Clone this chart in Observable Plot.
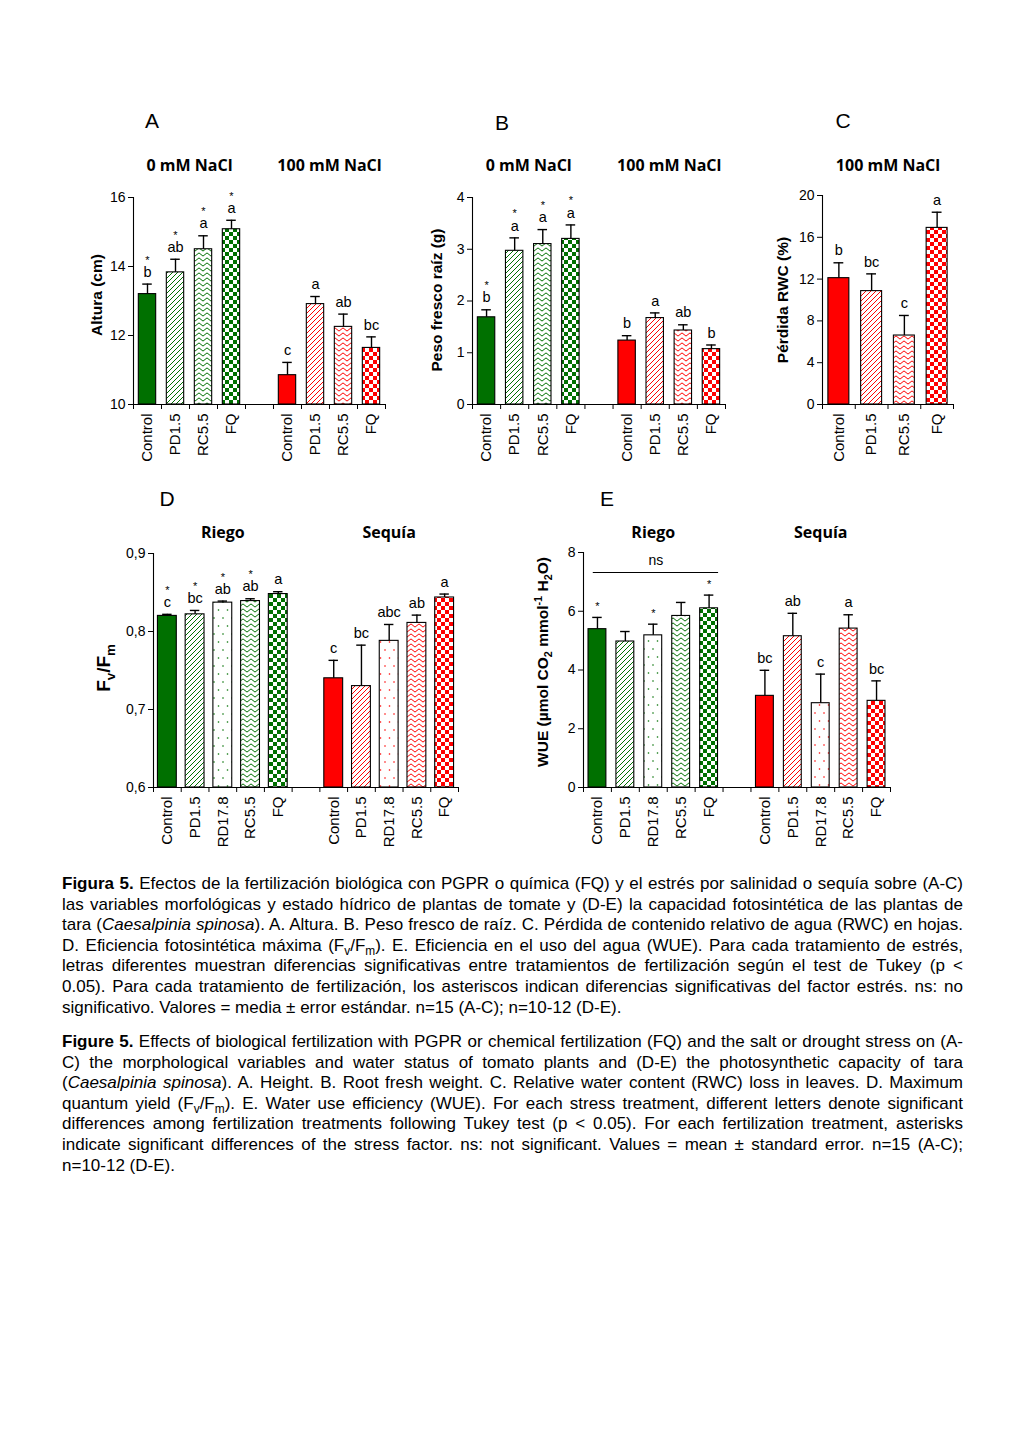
<!DOCTYPE html>
<html>
<head>
<meta charset="utf-8">
<script src="https://cdn.jsdelivr.net/npm/d3@7"></script>
<script src="https://cdn.jsdelivr.net/npm/@observablehq/plot@0.6"></script>
<style>
  html, body { margin: 0; padding: 0; background: #fff; }
  #page { position: relative; width: 1024px; height: 1448px; background: #fff; overflow: hidden; font-family: "Liberation Sans", Arial, sans-serif; color: #000; }
  .panel { position: absolute; }
  .letter { position: absolute; font-size: 21px; transform: translate(-50%, -50%); }
  .ytitle { position: absolute; font-weight: bold; font-size: 15.5px; white-space: nowrap; transform: translate(-50%, -50%) rotate(-90deg); }
  .ytitle sub, .ytitle sup { font-size: 70%; line-height: 0; }
  .caption { position: absolute; left: 62px; width: 901px; font-size: 17px; line-height: 20.6px; }
  .caption div { white-space: nowrap; text-align: justify; text-align-last: justify; }
  .caption div.last { text-align-last: left; }
  .caption sub { font-size: 70%; line-height: 0; }
</style>
</head>
<body>
<div id="page">
<svg width="0" height="0" style="position:absolute"><defs id="defs"></defs></svg>
</div>
<script>
// ---------------- DATA ----------------
const catsSalt = ["Control", "PD1.5", "RC5.5", "FQ"];
const catsWater = ["Control", "PD1.5", "RD17.8", "RC5.5", "FQ"];
const groupsSalt = ["0 mM NaCl", "100 mM NaCl"];
const groupsSaltC = ["100 mM NaCl"];
const groupsWater = ["Riego", "Sequía"];

// A. Altura (cm)
const alturaMean0 = [13.2, 13.83, 14.5, 15.08];
const alturaSE0 = [0.29, 0.38, 0.39, 0.26];
const alturaLet0 = ["b", "ab", "a", "a"];
const alturaStar0 = ["*", "*", "*", "*"];
const alturaMean100 = [10.85, 12.91, 12.25, 11.64];
const alturaSE100 = [0.37, 0.22, 0.37, 0.32];
const alturaLet100 = ["c", "a", "ab", "bc"];
const alturaStar100 = ["", "", "", ""];
const alturaTicks = [10, 12, 14, 16];

// B. Peso fresco raíz (g)
const pesoMean0 = [1.685, 2.97, 3.1, 3.2];
const pesoSE0 = [0.145, 0.25, 0.28, 0.27];
const pesoLet0 = ["b", "a", "a", "a"];
const pesoStar0 = ["*", "*", "*", "*"];
const pesoMean100 = [1.235, 1.67, 1.43, 1.07];
const pesoSE100 = [0.095, 0.10, 0.11, 0.08];
const pesoLet100 = ["b", "a", "ab", "b"];
const pesoStar100 = ["", "", "", ""];
const pesoTicks = [0, 1, 2, 3, 4];

// C. Pérdida RWC (%)
const rwcMean100 = [12.09, 10.85, 6.6, 16.9];
const rwcSE100 = [1.47, 1.65, 1.92, 1.5];
const rwcLet100 = ["b", "bc", "c", "a"];
const rwcStar100 = ["", "", "", ""];
const rwcTicks = [0, 4, 8, 12, 16, 20];

// D. Fv/Fm
const fvMeanRiego = [0.820, 0.822, 0.837, 0.839, 0.848];
const fvSERiego = [0.002, 0.005, 0.002, 0.003, 0.003];
const fvLetRiego = ["c", "bc", "ab", "ab", "a"];
const fvStarRiego = ["*", "*", "*", "*", ""];
const fvMeanSequia = [0.740, 0.730, 0.788, 0.811, 0.8436];
const fvSESequia = [0.023, 0.0525, 0.021, 0.010, 0.0044];
const fvLetSequia = ["c", "bc", "abc", "ab", "a"];
const fvStarSequia = ["", "", "", "", ""];
const fvTicks = [0.6, 0.7, 0.8, 0.9];

// E. WUE
const wueMeanRiego = [5.39, 4.97, 5.18, 5.84, 6.10];
const wueSERiego = [0.40, 0.34, 0.38, 0.46, 0.45];
const wueLetRiego = ["", "", "", "", ""];
const wueStarRiego = ["*", "", "*", "", "*"];
const wueMeanSequia = [3.12, 5.15, 2.87, 5.41, 2.95];
const wueSESequia = [0.87, 0.78, 0.99, 0.47, 0.68];
const wueLetSequia = ["bc", "ab", "c", "a", "bc"];
const wueStarSequia = ["", "", "", "", ""];
const wueTicks = [0, 2, 4, 6, 8];
const wueNs = [{x1: 0.35, x2: 4.84, y: 7.32, label: "ns"}];

// ---------------- STYLE ----------------
const COLORS = {green: "#007000", red: "#ff0000"};
const PAT = {"Control": "solid", "PD1.5": "stripe", "RC5.5": "wave", "FQ": "check", "RD17.8": "dots"};

const defs = document.getElementById("defs");
let defHTML = "";
for (const [name, col] of Object.entries(COLORS)) {
  defHTML += `
  <pattern id="stripe-${name}" patternUnits="userSpaceOnUse" width="5" height="5">
    <rect width="5" height="5" fill="white"/>
    <path d="M-1,1 L1,-1 M0,5 L5,0 M4,6 L6,4" stroke="${col}" stroke-width="1"/>
  </pattern>
  <pattern id="wave-${name}" patternUnits="userSpaceOnUse" width="8" height="5">
    <rect width="8" height="5" fill="white"/>
    <path d="M0,2.5 L2,0.9 L6,4.1 L8,2.5" fill="none" stroke="${col}" stroke-width="1"/>
  </pattern>
  <pattern id="check-${name}" patternUnits="userSpaceOnUse" width="8" height="8">
    <rect width="8" height="8" fill="white"/>
    <rect x="0" y="0" width="4" height="4" fill="${col}"/>
    <rect x="4" y="4" width="4" height="4" fill="${col}"/>
  </pattern>
  <pattern id="dots-${name}" patternUnits="userSpaceOnUse" width="9" height="16">
    <rect width="9" height="16" fill="white"/>
    <circle cx="2" cy="4" r="0.8" fill="${col}"/>
    <circle cx="6.5" cy="12" r="0.8" fill="${col}"/>
  </pattern>`;
}
defs.innerHTML = defHTML;

function buildRows(cats, groups) {
  const rows = [];
  groups.forEach((g, gi) => {
    cats.forEach((c, ci) => {
      rows.push({
        i: gi * (cats.length + 1) + ci,
        cat: c,
        mean: g.means[ci],
        se: g.ses[ci],
        letter: g.letters[ci],
        star: g.stars[ci],
        fill: PAT[c] === "solid" ? COLORS[g.color] : `url(#${PAT[c]}-${g.color})`
      });
    });
  });
  return rows;
}

const page = document.getElementById("page");

function panel(o) {
  const {rows, cats, groupNames, nslots, yTicks, fmt, w, h, ml, mt, mr, mb, pad, cap, headerDy, left, top, extra = []} = o;
  const ymin = yTicks[0], ymax = yTicks[yTicks.length - 1];
  const centers = new Map(rows.map(d => [d.i + 0.5, d.cat]));
  const ncat = cats.length;
  const plot = Plot.plot({
    width: w, height: h,
    marginLeft: ml, marginTop: mt, marginRight: mr, marginBottom: mb,
    x: {domain: [0, nslots]},
    y: {domain: [ymin, ymax]},
    color: {type: "identity"},
    style: {fontFamily: "'Liberation Sans', Arial, sans-serif", fontSize: "14px", background: "transparent", color: "black", overflow: "visible"},
    marks: [
      Plot.rect(rows, {x1: d => d.i + pad, x2: d => d.i + 1 - pad, y1: () => ymin, y2: "mean", fill: "fill", stroke: "black", strokeWidth: 1.1}),
      Plot.ruleX(rows, {x: d => d.i + 0.5, y1: "mean", y2: d => d.mean + d.se, stroke: "black", strokeWidth: 1.4}),
      Plot.ruleY(rows, {y: d => d.mean + d.se, x1: d => d.i + 0.5 - cap, x2: d => d.i + 0.5 + cap, stroke: "black", strokeWidth: 1.4}),
      Plot.text(rows, {x: d => d.i + 0.5, y: d => d.mean + d.se, text: "letter", dy: -12, fontSize: 14.5}),
      Plot.text(rows.filter(d => d.star && d.letter), {x: d => d.i + 0.5, y: d => d.mean + d.se, text: "star", dy: -24, fontSize: 11}),
      Plot.text(rows.filter(d => d.star && !d.letter), {x: d => d.i + 0.5, y: d => d.mean + d.se, text: "star", dy: -11, fontSize: 11}),
      Plot.text(groupNames, {x: (d, i) => i * (ncat + 1) + ncat / 2, frameAnchor: "top", dy: headerDy, text: d => d, fontFamily: "'Open Sans', sans-serif", fontWeight: "bold", fontSize: 16}),
      Plot.ruleX([0], {stroke: "black", strokeWidth: 1.1}),
      Plot.ruleY([ymin], {stroke: "black", strokeWidth: 1.1}),
      Plot.axisY({ticks: yTicks, tickFormat: fmt, tickSize: 5, tickPadding: 3, label: null, fontSize: 14}),
      Plot.axisX({ticks: d3.range(0, nslots + 1), tickFormat: () => "", tickSize: 5, label: null}),
      Plot.axisX({ticks: [...centers.keys()], tickFormat: d => centers.get(d), tickSize: 0, tickPadding: 9, tickRotate: -90, label: null, fontSize: 15}),
      ...extra
    ]
  });
  const div = document.createElement("div");
  div.className = "panel";
  div.style.left = left + "px";
  div.style.top = top + "px";
  div.appendChild(plot);
  page.appendChild(div);
}

function addText(cls, html, x, y) {
  const d = document.createElement("div");
  d.className = cls;
  d.style.left = x + "px";
  d.style.top = y + "px";
  d.innerHTML = html;
  page.appendChild(d);
}

const fmtInt = d => String(d);
const fmtComma = d => d.toFixed(1).replace(".", ",");

// Panel A
panel({
  rows: buildRows(catsSalt, [
    {means: alturaMean0, ses: alturaSE0, letters: alturaLet0, stars: alturaStar0, color: "green"},
    {means: alturaMean100, ses: alturaSE100, letters: alturaLet100, stars: alturaStar100, color: "red"}
  ]),
  cats: catsSalt, groupNames: groupsSalt, nslots: 9, yTicks: alturaTicks, fmt: fmtInt,
  w: 297, h: 322, ml: 40, mt: 45, mr: 5, mb: 70, pad: 0.19, cap: 0.17, headerDy: -38, left: 93, top: 152
});

// Panel B
panel({
  rows: buildRows(catsSalt, [
    {means: pesoMean0, ses: pesoSE0, letters: pesoLet0, stars: pesoStar0, color: "green"},
    {means: pesoMean100, ses: pesoSE100, letters: pesoLet100, stars: pesoStar100, color: "red"}
  ]),
  cats: catsSalt, groupNames: groupsSalt, nslots: 9, yTicks: pesoTicks, fmt: fmtInt,
  w: 298, h: 322, ml: 40, mt: 45, mr: 5, mb: 70, pad: 0.19, cap: 0.17, headerDy: -38, left: 432, top: 152
});

// Panel C
panel({
  rows: buildRows(catsSalt, [
    {means: rwcMean100, ses: rwcSE100, letters: rwcLet100, stars: rwcStar100, color: "red"}
  ]),
  cats: catsSalt, groupNames: groupsSaltC, nslots: 4, yTicks: rwcTicks, fmt: fmtInt,
  w: 176, h: 324, ml: 40, mt: 45, mr: 5, mb: 70, pad: 0.18, cap: 0.15, headerDy: -36, left: 782, top: 150
});

// Panel D
panel({
  rows: buildRows(catsWater, [
    {means: fvMeanRiego, ses: fvSERiego, letters: fvLetRiego, stars: fvStarRiego, color: "green"},
    {means: fvMeanSequia, ses: fvSESequia, letters: fvLetSequia, stars: fvStarSequia, color: "red"}
  ]),
  cats: catsWater, groupNames: groupsWater, nslots: 11, yTicks: fvTicks, fmt: fmtComma,
  w: 350, h: 344, ml: 40, mt: 35, mr: 5, mb: 75, pad: 0.16, cap: 0.17, headerDy: -27, left: 113, top: 518
});

// Panel E
panel({
  rows: buildRows(catsWater, [
    {means: wueMeanRiego, ses: wueSERiego, letters: wueLetRiego, stars: wueStarRiego, color: "green"},
    {means: wueMeanSequia, ses: wueSESequia, letters: wueLetSequia, stars: wueStarSequia, color: "red"}
  ]),
  cats: catsWater, groupNames: groupsWater, nslots: 11, yTicks: wueTicks, fmt: fmtInt,
  w: 352, h: 345, ml: 40, mt: 35, mr: 5, mb: 75, pad: 0.18, cap: 0.17, headerDy: -26, left: 543, top: 517,
  extra: [
    Plot.ruleY(wueNs, {y: "y", x1: "x1", x2: "x2", stroke: "black", strokeWidth: 1.1}),
    Plot.text(wueNs, {x: d => (d.x1 + d.x2) / 2, y: "y", text: "label", dy: -12, fontSize: 14})
  ]
});

// Panel letters
addText("letter", "A", 152, 121);
addText("letter", "B", 502, 123);
addText("letter", "C", 843, 121);
addText("letter", "D", 167, 499);
addText("letter", "E", 607, 499);

// Y axis titles
addText("ytitle", "Altura (cm)", 97, 295);
addText("ytitle", "Peso fresco raíz (g)", 437, 300);
addText("ytitle", "Pérdida RWC (%)", 783, 300);
addText("ytitle", '<span style="font-size:19px">F<sub>v</sub>/F<sub>m</sub></span>', 104, 668);
addText("ytitle", "WUE (µmol CO<sub>2</sub> mmol<sup>-1</sup> H<sub>2</sub>O)", 543, 662);

// Captions
const capEs = [
  "<b>Figura 5.</b> Efectos de la fertilización biológica con PGPR o química (FQ) y el estrés por salinidad o sequía sobre (A-C)",
  "las variables morfológicas y estado hídrico de plantas de tomate y (D-E) la capacidad fotosintética de las plantas de",
  "tara (<i>Caesalpinia spinosa</i>). A. Altura. B. Peso fresco de raíz. C. Pérdida de contenido relativo de agua (RWC) en hojas.",
  "D. Eficiencia fotosintética máxima (F<sub>v</sub>/F<sub>m</sub>). E. Eficiencia en el uso del agua (WUE). Para cada tratamiento de estrés,",
  "letras diferentes muestran diferencias significativas entre tratamientos de fertilización según el test de Tukey (p &lt;",
  "0.05). Para cada tratamiento de fertilización, los asteriscos indican diferencias significativas del factor estrés. ns: no",
  "significativo. Valores = media ± error estándar. n=15 (A-C); n=10-12 (D-E)."
];
const capEn = [
  "<b>Figure 5.</b> Effects of biological fertilization with PGPR or chemical fertilization (FQ) and the salt or drought stress on (A-",
  "C) the morphological variables and water status of tomato plants and (D-E) the photosynthetic capacity of tara",
  "(<i>Caesalpinia spinosa</i>). A. Height. B. Root fresh weight. C. Relative water content (RWC) loss in leaves. D. Maximum",
  "quantum yield (F<sub>v</sub>/F<sub>m</sub>). E. Water use efficiency (WUE). For each stress treatment, different letters denote significant",
  "differences among fertilization treatments following Tukey test (p &lt; 0.05). For each fertilization treatment, asterisks",
  "indicate significant differences of the stress factor. ns: not significant. Values = mean ± standard error. n=15 (A-C);",
  "n=10-12 (D-E)."
];
function caption(lines, top) {
  const d = document.createElement("div");
  d.className = "caption";
  d.style.top = top + "px";
  d.innerHTML = lines.map((l, i) => `<div class="${i === lines.length - 1 ? "last" : ""}">${l}</div>`).join("");
  page.appendChild(d);
}
caption(capEs, 874);
caption(capEn, 1032);
</script>
</body>
</html>
